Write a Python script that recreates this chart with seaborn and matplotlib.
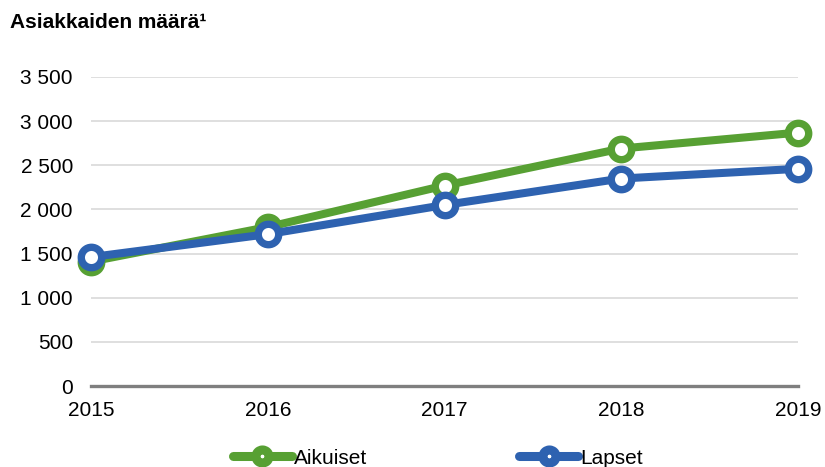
import matplotlib
matplotlib.use("Agg")
import matplotlib.pyplot as plt
import seaborn as sns
import pandas as pd
from matplotlib.lines import Line2D

years = [2015, 2016, 2017, 2018, 2019]
aikuiset = [1410, 1800, 2270, 2690, 2870]
lapset = [1460, 1720, 2050, 2350, 2460]
yticks = [0, 500, 1000, 1500, 2000, 2500, 3000, 3500]
ytick_labels = ["0", "500", "1 000", "1 500", "2 000", "2 500", "3 000", "3 500"]

df = pd.DataFrame({
    "Vuosi": years * 2,
    "Määrä": aikuiset + lapset,
    "Ryhmä": ["Aikuiset"] * len(years) + ["Lapset"] * len(years),
})

sns.set_theme(style="white")
plt.rcParams["font.family"] = ["Liberation Sans", "DejaVu Sans"]
plt.rcParams["text.color"] = "black"

fig = plt.figure(figsize=(8.25, 4.67), dpi=100)
ax = fig.add_axes([91 / 825, 1 - 386 / 467, (798 - 91) / 825, (386 - 77) / 467])

palette = {"Aikuiset": "#57A033", "Lapset": "#2E62B0"}
sns.lineplot(data=df, x="Vuosi", y="Määrä", hue="Ryhmä", palette=palette,
             ax=ax, linewidth=5.8, marker="o", markersize=14.7,
             markerfacecolor="white", markeredgewidth=5.3, legend=False)
for line, key in zip(ax.get_lines(), ["Aikuiset", "Lapset"]):
    line.set_markeredgecolor(palette[key])
    line.set_clip_on(False)

ax.set_xlim(2015, 2019)
ax.set_ylim(0, 3500)
ax.set_yticks(yticks)
ax.set_yticklabels(ytick_labels)
ax.set_xticks(years)
ax.set_xticklabels([str(y) for y in years])
ax.tick_params(axis="both", labelsize=15, colors="black", length=0)
ax.tick_params(axis="y", pad=13)
ax.tick_params(axis="x", pad=11)
ax.yaxis.grid(True, color="#D9D9D9", linewidth=1.2)
ax.set_axisbelow(True)
for s in ["top", "right", "left"]:
    ax.spines[s].set_visible(False)
ax.spines["bottom"].set_color("#7F7F7F")
ax.spines["bottom"].set_linewidth(2.4)
ax.spines["bottom"].set_zorder(1.5)
ax.set_xlabel("")
ax.set_ylabel("")

fig.text(10 / 825, 1 - 22 / 467, "Asiakkaiden määrä¹", fontsize=15,
         fontweight="bold", ha="left", va="center", color="black")

handles = [Line2D([], [], color=palette[k], linewidth=6.5, marker="o",
                  markersize=9.4, markerfacecolor="white",
                  markeredgecolor=palette[k], markeredgewidth=6.5)
           for k in ["Aikuiset", "Lapset"]]
fig.legend(handles, ["Aikuiset", "Lapset"], loc="center left",
           bbox_to_anchor=(233 / 825, 1 - 458 / 467), ncol=2, frameon=False,
           fontsize=15, handlelength=2.83, handletextpad=0.1,
           columnspacing=7.3, borderpad=0, borderaxespad=0,
           labelcolor="black")

fig.savefig("out.png", dpi=100)
